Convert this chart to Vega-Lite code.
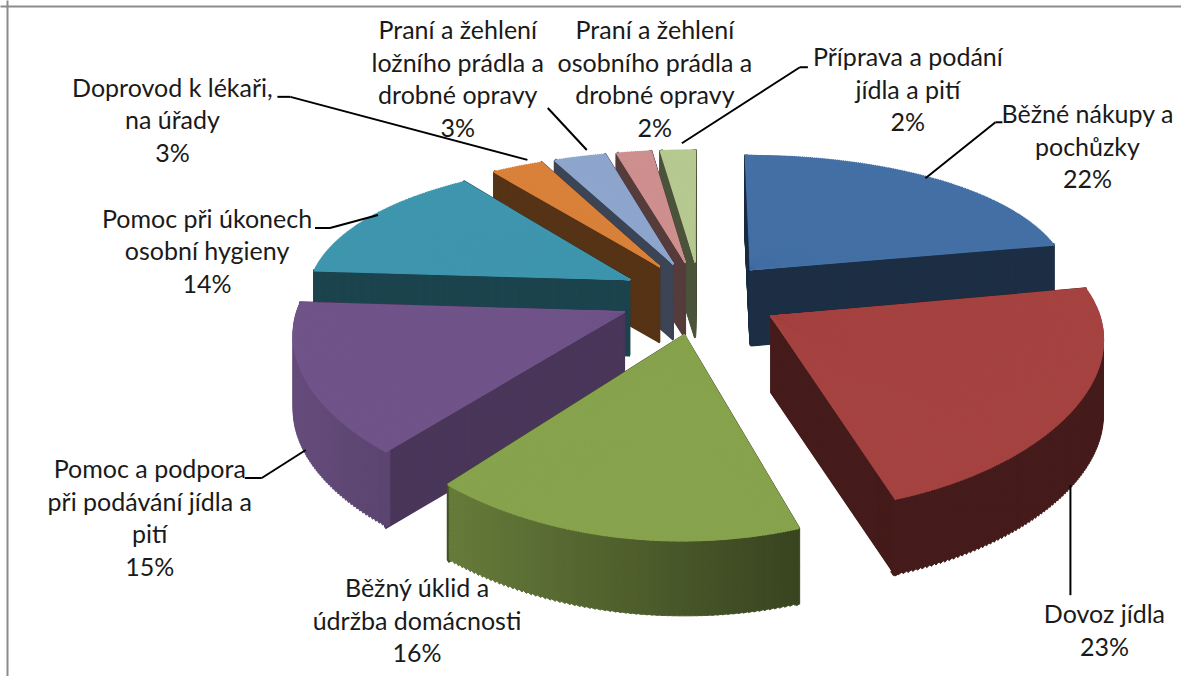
{
"$schema":"https://vega.github.io/schema/vega-lite/v6.json",
"width":1181,"height":676,"padding":0,"autosize":{"type":"none"},"background":"white",
"config":{"view":{"stroke":null}},
"params":[{"name":"cx","expr":"700"},{"name":"cy","expr":"297"},{"name":"Rx","expr":"324"},{"name":"Ry","expr":"147"},{"name":"p","expr":"0.2"},{"name":"px","expr":"0.12"},{"name":"e","expr":"0.25"}],
"data":{"values":[
{"name":"Běžné nákupy a|pochůzky","value":22},
{"name":"Dovoz jídla","value":23},
{"name":"Běžný úklid a|údržba domácnosti","value":16},
{"name":"Pomoc a podpora|při podávání jídla a|pití","value":15},
{"name":"Pomoc při úkonech|osobní hygieny","value":14},
{"name":"Doprovod k lékaři,|na úřady","value":3},
{"name":"Praní a žehlení|ložního prádla a|drobné opravy","value":3},
{"name":"Praní a žehlení|osobního prádla a|drobné opravy","value":2},
{"name":"Příprava a podání|jídla a pití","value":2}
]},
"transform":[
{"stack":"value","groupby":[],"as":["v0","v1"]},
{"joinaggregate":[{"op":"sum","field":"value","as":"total"}]},
{"window":[{"op":"row_number","as":"rn"}]},
{"calculate":"datum.rn-1","as":"i"},
{"calculate":"-PI/2+datum.v0/datum.total*2*PI","as":"a0"},
{"calculate":"-PI/2+datum.v1/datum.total*2*PI","as":"a1"},
{"calculate":"(datum.a0+datum.a1)/2","as":"am"},
{"calculate":"e*cos(datum.am)","as":"ex"},
{"calculate":"e*sin(datum.am)","as":"ey"},
{"calculate":"cx+Rx*datum.ex/(1-px*datum.ey)","as":"ax"},
{"calculate":"cy+Ry*datum.ey/(1-p*datum.ey)","as":"ay"},
{"calculate":"cx+Rx*(datum.ex+cos(datum.am))/(1-px*(datum.ey+sin(datum.am)))","as":"rimx"},
{"calculate":"cy+Ry*(datum.ey+sin(datum.am))/(1-p*(datum.ey+sin(datum.am)))","as":"rimy"},
{"calculate":"[[68,112,165],[165,67,65],[135,163,77],[112,84,137],[63,150,174],[217,129,58],[142,165,204],[206,143,143],[182,201,144]][datum.i]","as":"rgbv"},
{"calculate":"max(2,ceil((datum.a1-datum.a0)/0.007))","as":"n"},
{"calculate":"sequence(0,datum.n)","as":"ks"},
{"flatten":["ks"]},
{"calculate":"datum.a0+(datum.a1-datum.a0)*datum.ks/datum.n","as":"t1"},
{"calculate":"datum.a0+(datum.a1-datum.a0)*(datum.ks+1)/datum.n","as":"t2"},
{"calculate":"(datum.t1+datum.t2)/2","as":"tm"},
{"calculate":"datum.ex+cos(datum.t1)","as":"X1"},{"calculate":"datum.ey+sin(datum.t1)","as":"Y1"},
{"calculate":"datum.ex+cos(datum.t2)","as":"X2"},{"calculate":"datum.ey+sin(datum.t2)","as":"Y2"},
{"calculate":"datum.ex+cos(datum.tm)","as":"Xm"},{"calculate":"datum.ey+sin(datum.tm)","as":"Ym"},
{"calculate":"cx+Rx*datum.X1/(1-px*datum.Y1)","as":"x1"},{"calculate":"cy+Ry*datum.Y1/(1-p*datum.Y1)","as":"y1"},
{"calculate":"cx+Rx*datum.X2/(1-px*datum.Y2)","as":"x2"},{"calculate":"cy+Ry*datum.Y2/(1-p*datum.Y2)","as":"y2"},
{"calculate":"cx+Rx*datum.Xm/(1-px*datum.Ym)","as":"xm"},{"calculate":"cy+Ry*datum.Ym/(1-p*datum.Ym)","as":"ym"},
{"calculate":"atan2(datum.x1-datum.ax,datum.ay-datum.y1)","as":"th1"},
{"calculate":"atan2(datum.x2-datum.ax,datum.ay-datum.y2)","as":"th2r"},
{"calculate":"datum.th2r<datum.th1-PI?datum.th2r+2*PI:datum.th2r","as":"th2"},
{"calculate":"sqrt(pow(datum.xm-datum.ax,2)+pow(datum.ym-datum.ay,2))","as":"r"},
{"calculate":"'rgb('+datum.rgbv[0]+','+datum.rgbv[1]+','+datum.rgbv[2]+')'","as":"topc"}
],
"layer":[
{"transform":[
{"filter":"datum.ks==0||datum.ks==datum.n-1"},
{"calculate":"sequence(0,76,0.75)","as":"d"},{"flatten":["d"]},
{"calculate":"datum.ay+datum.d","as":"yy"},
{"calculate":"[0.42,0.42,0.5,0.66,0.45,0.4,0.42,0.42,0.42][datum.i]","as":"k"},
{"calculate":"'rgb('+round(datum.rgbv[0]*datum.k)+','+round(datum.rgbv[1]*datum.k)+','+round(datum.rgbv[2]*datum.k)+')'","as":"c"},
{"calculate":"[4,7,8,6,5,3,2,1,0][datum.i]*1000-datum.d","as":"ord"}],
"mark":{"type":"arc","strokeWidth":2},
"encoding":{
"x":{"field":"ax","type":"quantitative","scale":{"domain":[0,1181],"range":[0,1181],"nice":false},"axis":{"orient":"top","offset":-6,"labels":false,"ticks":false,"grid":false,"title":null,"domain":true,"domainColor":"#8c8c8c","domainWidth":2}},
"y":{"field":"yy","type":"quantitative","scale":{"domain":[0,676],"range":[0,676],"nice":false},"axis":{"orient":"left","offset":-7,"labels":false,"ticks":false,"grid":false,"title":null,"domain":true,"domainColor":"#8c8c8c","domainWidth":2}},
"theta":{"field":"th1","type":"quantitative","scale":null,"stack":null},
"theta2":{"field":"th2"},
"radius":{"field":"r","type":"quantitative","scale":null},
"color":{"field":"c","type":"nominal","scale":null},
"stroke":{"field":"c","type":"nominal","scale":null},
"order":{"field":"ord","type":"quantitative"}
}},
{"transform":[
{"filter":"(sin(datum.tm)>-0.05||datum.i==1)&&datum.ks%2==0"},
{"calculate":"datum.th1+2*(datum.th2-datum.th1)","as":"th2w"},
{"calculate":"sequence(0,76,2.5)","as":"d"},{"flatten":["d"]},
{"calculate":"datum.ay+datum.d","as":"yy"},
{"calculate":"datum.r-5","as":"rin"},
{"calculate":"0.9-0.48*clamp((datum.xm-300)/500,0,1)","as":"k"},
{"calculate":"'rgb('+round(datum.rgbv[0]*datum.k)+','+round(datum.rgbv[1]*datum.k)+','+round(datum.rgbv[2]*datum.k)+')'","as":"c"},
{"calculate":"[4,7,8,6,5,3,2,1,0][datum.i]*1000-datum.d","as":"ord"}],
"mark":{"type":"arc","strokeWidth":1},
"encoding":{
"x":{"field":"ax","type":"quantitative","scale":{"domain":[0,1181],"range":[0,1181],"nice":false}},
"y":{"field":"yy","type":"quantitative","scale":{"domain":[0,676],"range":[0,676],"nice":false}},
"theta":{"field":"th1","type":"quantitative","scale":null,"stack":null},
"theta2":{"field":"th2w"},
"radius":{"field":"r","type":"quantitative","scale":null},
"radius2":{"field":"rin"},
"color":{"field":"c","type":"nominal","scale":null},
"stroke":{"field":"c","type":"nominal","scale":null},
"order":{"field":"ord","type":"quantitative"}
}},
{"mark":{"type":"arc","strokeWidth":1.2},
"encoding":{
"x":{"field":"ax","type":"quantitative","scale":{"domain":[0,1181],"range":[0,1181],"nice":false}},
"y":{"field":"ay","type":"quantitative","scale":{"domain":[0,676],"range":[0,676],"nice":false}},
"theta":{"field":"th1","type":"quantitative","scale":null,"stack":null},
"theta2":{"field":"th2"},
"radius":{"field":"r","type":"quantitative","scale":null},
"color":{"field":"topc","type":"nominal","scale":null},
"stroke":{"field":"topc","type":"nominal","scale":null}
}},
{"transform":[{"filter":"datum.ks==0&&datum.i!=2&&datum.i!=7"},
{"calculate":"datum.rimx+[-6,-7,0,1,9,10,7,0,4][datum.i]","as":"sx"},
{"calculate":"datum.rimy+[0,81,0,72,-3,-7,-7,0,-7][datum.i]","as":"sy"},
{"calculate":"datum.rimx+[64,-7,0,-43,-39,-227,-32,0,122][datum.i]","as":"ex2"},
{"calculate":"datum.rimy+[-56,191,0,100,10,-70,-49,0,-83][datum.i]","as":"ey2"}],
"mark":{"type":"rule","color":"#000000","strokeWidth":2},
"encoding":{"x":{"field":"sx","type":"quantitative","scale":{"domain":[0,1181],"range":[0,1181],"nice":false}},"y":{"field":"sy","type":"quantitative","scale":{"domain":[0,676],"range":[0,676],"nice":false}},"x2":{"field":"ex2"},"y2":{"field":"ey2"}}},
{"transform":[{"filter":"datum.ks==0&&datum.i!=2&&datum.i!=7&&datum.i!=1&&datum.i!=6"},
{"calculate":"datum.rimx+[64,-7,0,-43,-39,-227,-32,0,122][datum.i]","as":"sx"},
{"calculate":"datum.rimy+[-56,191,0,100,10,-70,-49,0,-83][datum.i]","as":"sy"},
{"calculate":"datum.rimx+[71,-7,0,-60,-54,-240,-32,0,130][datum.i]","as":"ex2"}],
"mark":{"type":"rule","color":"#000000","strokeWidth":2},
"encoding":{"x":{"field":"sx","type":"quantitative","scale":{"domain":[0,1181],"range":[0,1181],"nice":false}},"y":{"field":"sy","type":"quantitative","scale":{"domain":[0,676],"range":[0,676],"nice":false}},"x2":{"field":"ex2"},"y2":{"field":"sy"}}},
{"transform":[{"filter":"datum.ks==0"},
{"calculate":"split(datum.name+'|'+datum.value+'%','|')","as":"lines"},
{"calculate":"datum.rimx+[156,27,-194,-155,-162,-345,-122,21,230][datum.i]","as":"lx"},
{"calculate":"datum.rimy+[-63,211,53,92,2,-78,-126,-121,-92][datum.i]","as":"ly"}],
"mark":{"type":"text","font":"Lato","fontSize":25,"lineHeight":32.5,"color":"#1a1a1a","align":"center","baseline":"middle"},
"encoding":{"x":{"field":"lx","type":"quantitative","scale":{"domain":[0,1181],"range":[0,1181],"nice":false}},"y":{"field":"ly","type":"quantitative","scale":{"domain":[0,676],"range":[0,676],"nice":false}},"text":{"field":"lines"}}}
]
}
